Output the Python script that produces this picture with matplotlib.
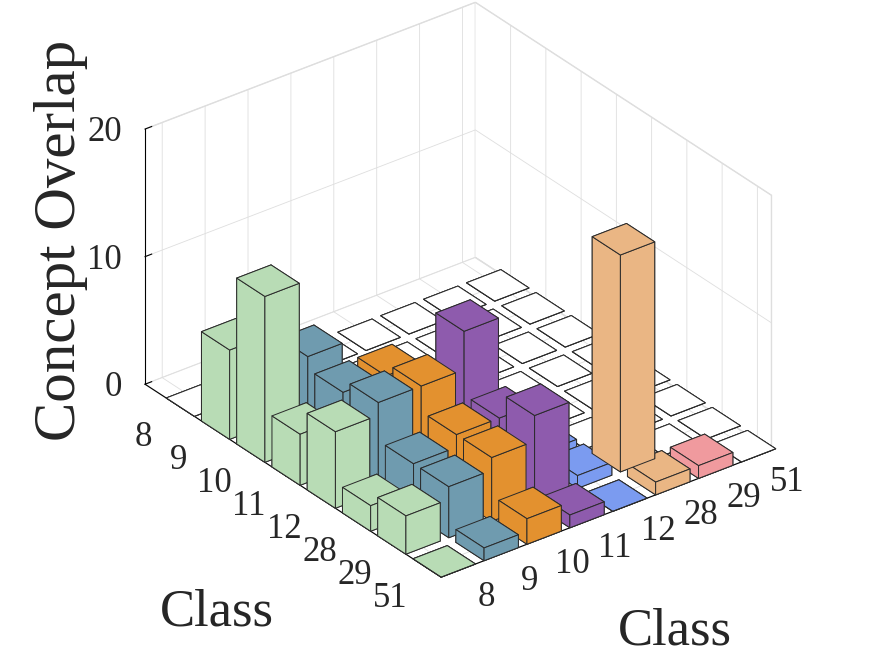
import numpy as np
import matplotlib
matplotlib.use('Agg')
import matplotlib.pyplot as plt
from mpl_toolkits.mplot3d import proj3d

plt.rcParams['font.family'] = ['Liberation Serif', 'DejaVu Serif']
plt.rcParams['grid.color'] = '#dedede'
plt.rcParams['grid.linewidth'] = 0.6

# class ids on both axes
classes = ['8', '9', '10', '11', '12', '28', '29', '51']

# concept overlap, one list per column class (entries follow the row classes)
# only the part below the diagonal is coloured, the rest are empty white cells
col_8 = [0, 7, 13, 4, 6, 2, 3, 0]
col_9 = [0, 0, 7, 6, 7, 4, 4, 1]
col_10 = [0, 0, 0, 6, 7, 5, 5, 2]
col_11 = [0, 0, 0, 0, 10, 5, 7, 1]
col_12 = [0, 0, 0, 0, 0, 1, 1, 0]
col_28 = [0, 0, 0, 0, 0, 0, 17, 1]
col_29 = [0, 0, 0, 0, 0, 0, 0, 1]
col_51 = [0, 0, 0, 0, 0, 0, 0, 0]
columns = [col_8, col_9, col_10, col_11, col_12, col_28, col_29, col_51]

col_colors = ['#B8DCB5', '#6F9BAF', '#E3912F', '#8E5BAD',
              '#7B9BF0', '#EAB684', '#F09A9E', '#FFFFFF']
z_ticks = [0, 10, 20]
txt_color = '#262626'

fig = plt.figure(figsize=(8.75, 6.56), dpi=100)
ax = fig.add_axes([0.0136, 0.0448, 1.0, 1.0], projection='3d')
ax.set_proj_type('ortho')
ax.view_init(elev=30, azim=-37.5)

# one bar3d call so all faces get depth sorted together
xs, ys, hs, cs = [], [], [], []
for j, col in enumerate(columns):
    for i, v in enumerate(col):
        xs.append(i - 0.4)
        ys.append(j - 0.4)
        if i > j:
            hs.append(v)
            cs.append(col_colors[j])
        else:
            hs.append(0)
            cs.append('white')
ax.bar3d(xs, ys, np.zeros(len(xs)), 0.8, 0.8, hs, color=cs, shade=False,
         edgecolor='#2a2a2a', linewidth=0.7)

# matlab-like limits (box is a bit longer on the row side)
x0, x1 = -1.0, 7.4
y0, y1 = -0.4, 7.3
ax.set_xlim(x0, x1)
ax.set_ylim(y0, y1)
ax.set_zlim(0, 20)
ax.set_xticks(range(len(classes)))
ax.set_yticks(range(len(classes)))
ax.set_zticks(z_ticks)
ax.set_box_aspect((486, 416, 294.4), zoom=1.043)

for a in (ax.xaxis, ax.yaxis, ax.zaxis):
    a.set_pane_color((1, 1, 1, 1))
    a.pane.set_edgecolor('#dedede')
    a.line.set_color('black')
    a.line.set_linewidth(0.8)
    a._axinfo['tick']['inward_factor'] = 0.0
    a._axinfo['tick']['outward_factor'] = 0.25
    # labels are drawn by hand below
    a.set_tick_params(label1On=False, label2On=False)

# z axis on the left corner like matlab
ax.zaxis.set_ticks_position('lower')
ax.zaxis.set_label_position('lower')

# tick labels placed by hand, matlab style (projected to plain 2d text)
M = ax.get_proj()


def put(x, y, z, s, **kw):
    px, py, _ = proj3d.proj_transform(x, y, z, M)
    ax.text2D(px, py, s, transform=ax.transData, fontsize=25,
              color=txt_color, va='center', **kw)


for i, c in enumerate(classes):
    put(i, y0 - 0.86, -1.3, c, ha='center')
    put(x1 + 0.8, i, -0.67, c, ha='center')
for z in z_ticks:
    put(x0 - 0.25, y0 - 0.33, z - 0.3, str(z), ha='right')

fig.text(0.07, 0.633, 'Concept Overlap', rotation=90, fontsize=42.5,
         ha='center', va='center', color=txt_color)
fig.text(0.248, 0.067, 'Class', fontsize=38, ha='center', va='center', color=txt_color)
fig.text(0.771, 0.037, 'Class', fontsize=38, ha='center', va='center', color=txt_color)

fig.savefig('out.png', dpi=100)
